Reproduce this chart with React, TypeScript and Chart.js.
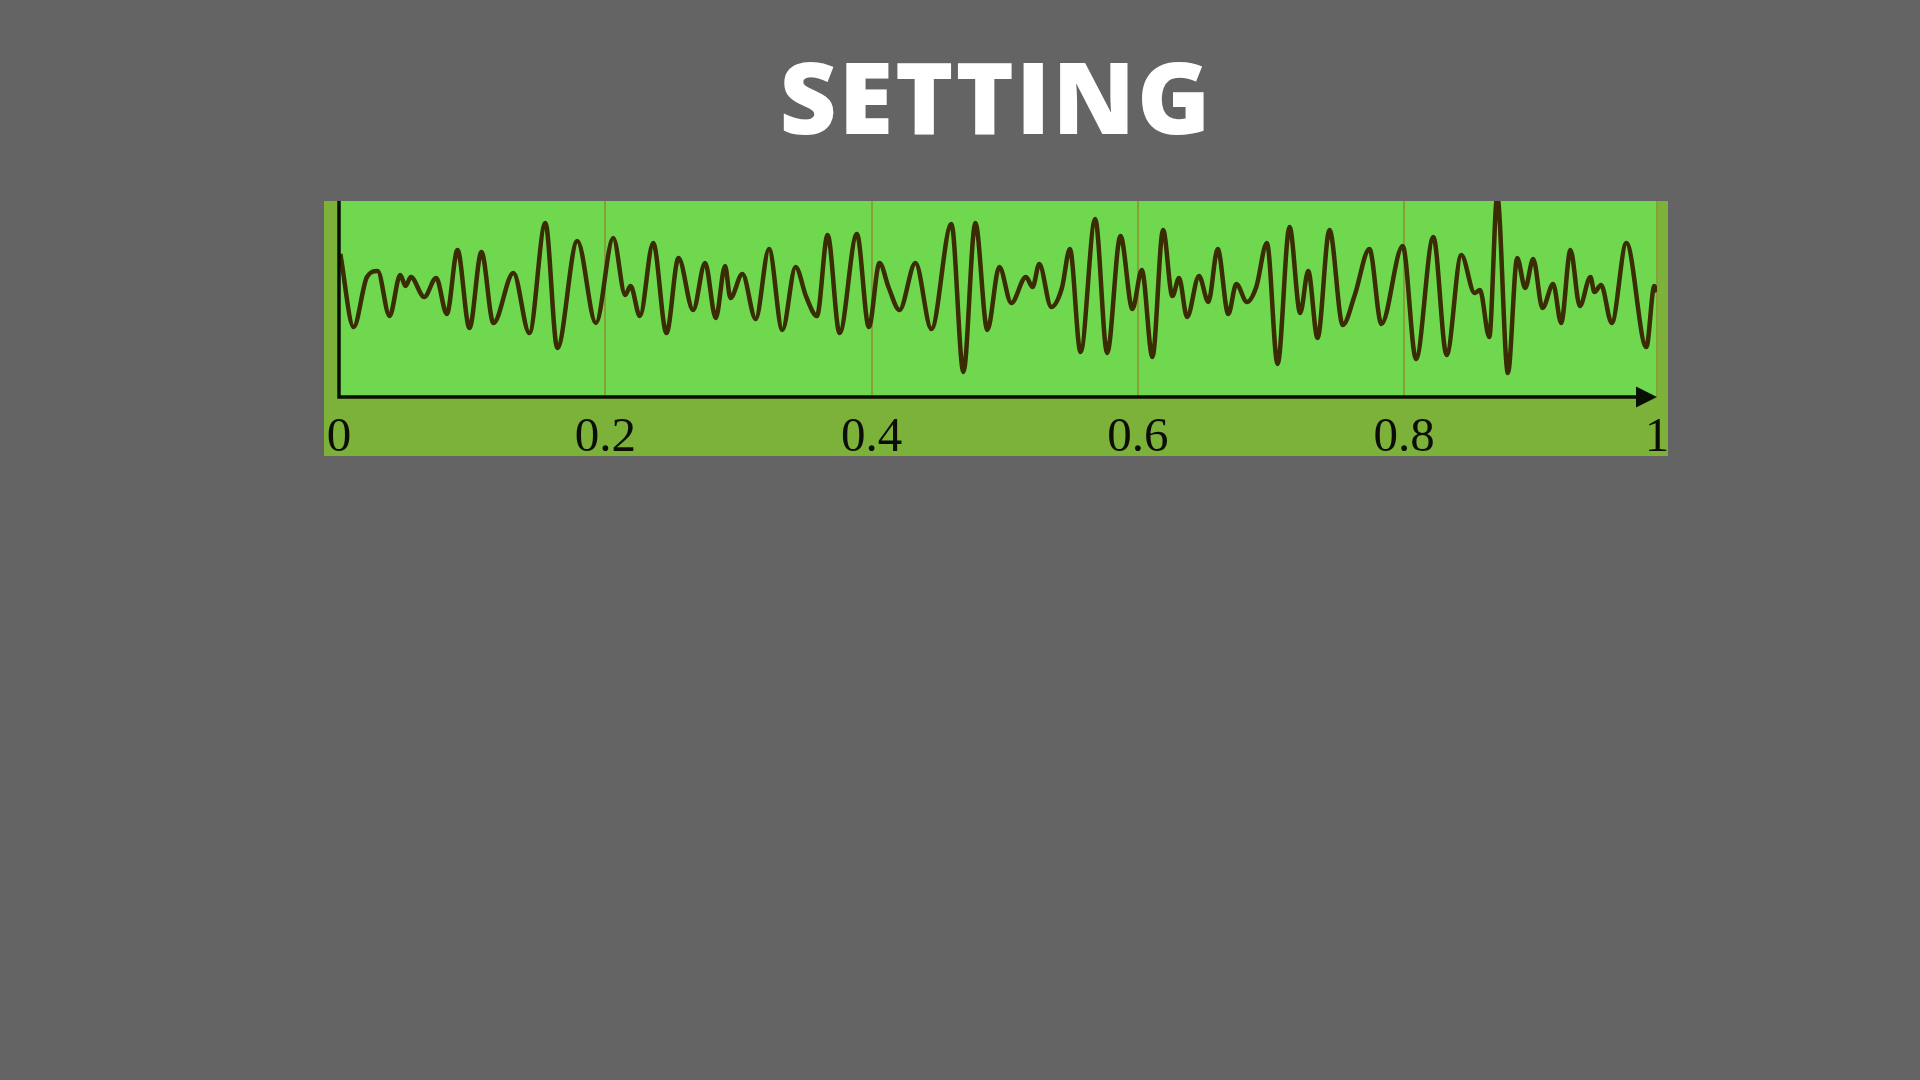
import { useEffect, useRef } from 'react'
import { Chart, registerables } from 'chart.js'
Chart.register(...registerables)

// time positions of the signal's turning points (axis units)
const timePoints = [
  0.001, 0.011, 0.021, 0.029, 0.038, 0.046, 0.050, 0.054, 0.064, 0.073,
  0.081, 0.089, 0.098, 0.107, 0.116, 0.131, 0.143, 0.155, 0.164, 0.179,
  0.193, 0.206, 0.215, 0.219, 0.226, 0.236, 0.246, 0.255, 0.266, 0.275,
  0.283, 0.290, 0.294, 0.303, 0.313, 0.323, 0.333, 0.343, 0.351, 0.359,
  0.367, 0.376, 0.389, 0.398, 0.406, 0.413, 0.421, 0.433, 0.445, 0.460,
  0.469, 0.478, 0.487, 0.496, 0.505, 0.516, 0.521, 0.526, 0.535, 0.543,
  0.549, 0.557, 0.568, 0.577, 0.587, 0.596, 0.603, 0.611, 0.619, 0.626,
  0.631, 0.637, 0.646, 0.653, 0.660, 0.668, 0.674, 0.682, 0.689, 0.697,
  0.705, 0.714, 0.722, 0.728, 0.735, 0.744, 0.754, 0.763, 0.774, 0.783,
  0.799, 0.809, 0.822, 0.832, 0.843, 0.853, 0.857, 0.864, 0.870, 0.878,
  0.885, 0.891, 0.897, 0.904, 0.912, 0.918, 0.925, 0.932, 0.940, 0.943,
  0.948, 0.956, 0.967, 0.982, 0.988, 0.990,
]

// signal amplitude at those points
const signal = [
  0.36, -0.37, 0.13, 0.19, -0.26, 0.15, 0.04, 0.13, -0.07, 0.12,
  -0.24, 0.40, -0.38, 0.38, -0.33, 0.17, -0.43, 0.67, -0.58, 0.49,
  -0.33, 0.52, -0.05, 0.04, -0.26, 0.47, -0.43, 0.32, -0.20, 0.27,
  -0.28, 0.24, -0.08, 0.16, -0.29, 0.41, -0.40, 0.23, -0.07, -0.26,
  0.55, -0.43, 0.56, -0.37, 0.27, 0.02, -0.20, 0.27, -0.39, 0.66,
  -0.82, 0.67, -0.40, 0.23, -0.13, 0.13, 0.03, 0.26, -0.17, 0.02,
  0.41, -0.62, 0.71, -0.63, 0.54, -0.19, 0.20, -0.67, 0.60, -0.06,
  0.12, -0.27, 0.14, -0.12, 0.41, -0.24, 0.06, -0.12, 0.03, 0.47,
  -0.74, 0.63, -0.23, 0.19, -0.48, 0.60, -0.35, -0.05, 0.41, -0.34,
  0.44, -0.69, 0.53, -0.65, 0.35, -0.03, 0.00, -0.47, 0.94, -0.83,
  0.32, 0.02, 0.31, -0.18, 0.06, -0.33, 0.40, -0.16, 0.13, -0.02,
  0.05, -0.33, 0.47, -0.57, 0.04, -0.02,
]

const tickValues = [0, 0.2, 0.4, 0.6, 0.8, 0.99]
const tickLabels = ['0', '0.2', '0.4', '0.6', '0.8', '1']

const panelBackground = {
  id: 'panelBackground',
  beforeDraw(chart: Chart) {
    const { ctx, chartArea: a, width, height } = chart
    ctx.save()
    ctx.fillStyle = '#7cb13a'
    ctx.fillRect(0, 0, width, height)
    ctx.fillStyle = '#6fd84f'
    ctx.fillRect(a.left, a.top, a.right - a.left, a.bottom - a.top)
    ctx.restore()
  },
}

const arrowAxes = {
  id: 'arrowAxes',
  afterDraw(chart: Chart) {
    const { ctx, chartArea: a } = chart
    ctx.save()
    ctx.strokeStyle = '#0a0f04'
    ctx.fillStyle = '#0a0f04'
    ctx.lineWidth = 3.5
    ctx.beginPath()
    ctx.moveTo(a.left, a.top)
    ctx.lineTo(a.left, a.bottom)
    ctx.lineTo(a.right - 18, a.bottom)
    ctx.stroke()
    ctx.beginPath()
    ctx.moveTo(a.right - 21, a.bottom - 10.5)
    ctx.lineTo(a.right, a.bottom)
    ctx.lineTo(a.right - 21, a.bottom + 10.5)
    ctx.closePath()
    ctx.fill()
    ctx.restore()
  },
}

function SignalChart() {
  const canvasRef = useRef<HTMLCanvasElement>(null)
  const chartRef = useRef<Chart | null>(null)

  useEffect(() => {
    if (!canvasRef.current) return
    chartRef.current?.destroy()
    chartRef.current = new Chart(canvasRef.current, {
      type: 'line',
      data: {
        datasets: [{
          data: timePoints.map((t, i) => ({ x: t, y: signal[i] })),
          borderColor: '#3a2c03',
          borderWidth: 4.5,
          pointRadius: 0,
          cubicInterpolationMode: 'monotone',
          fill: false,
          clip: 0,
        }],
      },
      options: {
        animation: false,
        responsive: true,
        maintainAspectRatio: false,
        layout: { padding: { left: 15, right: 11, top: 0, bottom: 0 } },
        plugins: { legend: { display: false }, tooltip: { enabled: false } },
        scales: {
          x: {
            type: 'linear',
            min: 0,
            max: 0.99,
            afterBuildTicks: (scale: any) => { scale.ticks = tickValues.map(v => ({ value: v })) },
            afterFit: (scale: any) => {
              scale.height = 59
              scale.paddingLeft = 0
              scale.paddingRight = 0
            },
            grid: { color: '#86a03a', lineWidth: 2, drawTicks: false },
            border: { display: false },
            ticks: {
              autoSkip: false,
              maxRotation: 0,
              padding: 12,
              color: '#0b0d06',
              font: { family: '"Liberation Serif", "DejaVu Serif", serif', size: 49 },
              callback: (_v: any, i: number) => tickLabels[i],
            },
          },
          y: { display: false, min: -1.07, max: 0.89 },
        },
      },
      plugins: [panelBackground, arrowAxes],
    })
    return () => chartRef.current?.destroy()
  }, [])

  return (
    <div style={{ position: 'absolute', left: 324, top: 201, width: 1344, height: 255 }}>
      <canvas ref={canvasRef} />
    </div>
  )
}

export default function App() {
  return (
    <div style={{ position: 'fixed', inset: 0, background: '#646464', overflow: 'hidden' }}>
      <div style={{
        position: 'absolute', left: 324, width: 1344, top: 46, textAlign: 'center',
        color: '#ffffff', fontFamily: '"Open Sans", sans-serif', fontWeight: 800,
        fontSize: 99, lineHeight: 1, letterSpacing: 2,
      }}>
        SETTING
      </div>
      <SignalChart />
    </div>
  )
}
